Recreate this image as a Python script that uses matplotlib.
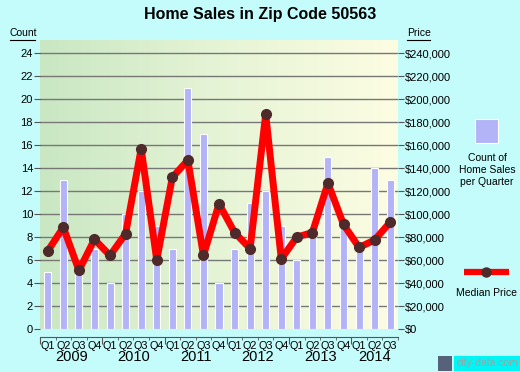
import numpy as np
import matplotlib
matplotlib.use("Agg")
import matplotlib.pyplot as plt
from matplotlib.lines import Line2D
from matplotlib.colors import LinearSegmentedColormap

plt.rcParams['font.family'] = ['Liberation Sans', 'DejaVu Sans']

quarters = ["Q1", "Q2", "Q3", "Q4"] * 5 + ["Q1", "Q2", "Q3"]
years = ["2009", "2010", "2011", "2012", "2013", "2014"]
sales_count = [5, 13, 5, 7, 4, 10, 12, 9, 7, 21, 17, 4,
               7, 11, 12, 9, 6, 9, 15, 9, 7, 14, 13]
median_price = [68000, 88500, 51000, 78000, 64000, 83000, 157000, 60000,
                132000, 147000, 64000, 109000, 84000, 70000, 187000, 61000,
                80000, 84000, 127000, 91000, 71000, 77500, 93000]
count_ticks = list(range(0, 25, 2))
price_ticks = list(range(0, 240001, 20000))

W, H = 520, 372
fig = plt.figure(figsize=(W / 100, H / 100), dpi=100)
fig.patch.set_facecolor("#c4fbfb")

L, R, T, B = 40, 398, 40, 329
ax = fig.add_axes([L / W, 1 - B / H, (R - L) / W, (B - T) / H])
n = len(sales_count)
x = np.arange(n)
ax.set_xlim(-0.5, n - 0.5)
ymax = (B - T) / ((B - 53.3) / 24)
ax.set_ylim(0, ymax)

# gradient background
cmap = LinearSegmentedColormap.from_list("bg", ["#c9e7c3", "#e6f4d6", "#fdfde2"])
grad = np.linspace(0, 1, 256).reshape(1, -1)
ax.imshow(grad, extent=[-0.5, n - 0.5, 0, ymax], aspect="auto", cmap=cmap, zorder=0)
ax.set_facecolor("none")

# grid
for v in count_ticks[1:]:
    ax.axhline(v, color="#777777", lw=1.0, zorder=1)

ax.bar(x, sales_count, width=0.45, color="#b3b3f8", edgecolor="white", lw=0.8, zorder=2)

ax.plot(x, np.array(median_price) / 10000, color="#ff0000", lw=5, zorder=3,
        solid_joinstyle="round", solid_capstyle="round", marker="o", markersize=7,
        markerfacecolor="#4f2a2a", markeredgecolor="#4f2a2a")

for s in ["top", "right", "left"]:
    ax.spines[s].set_visible(False)
ax.spines["bottom"].set_position(("outward", 5.8))
ax.spines["bottom"].set_color("#555555")

ax.set_yticks(count_ticks)
ax.set_yticklabels([str(v) for v in count_ticks], fontsize=8)
ax.tick_params(axis="y", length=4, color="#555555", pad=1)

ax.set_xticks(np.arange(-0.5, n, 4))
ax.set_xticklabels([])
ax.set_xticks(np.arange(-0.5, n, 1), minor=True)
ax.tick_params(axis="x", which="major", length=5, color="#555555")
ax.tick_params(axis="x", which="minor", length=2.5, color="#555555")

for i, q in enumerate(quarters):
    ax.text(i, -1.45, q, ha="center", va="center", fontsize=7.8, clip_on=False)
year_centers = [1.5, 5.5, 9.5, 13.5, 17.5, 21.0]
for yc, yl in zip(year_centers, years):
    ax.text(yc, -2.45, yl, ha="center", va="center", fontsize=10.5, clip_on=False)

ax2 = ax.twinx()
ax2.set_ylim(0, ymax * 10000)
ax2.set_yticks(price_ticks)
ax2.set_yticklabels(["${:,}".format(v) for v in price_ticks], fontsize=8)
ax2.tick_params(axis="y", length=4, color="#555555", pad=1)
for s in ["top", "right", "left", "bottom"]:
    ax2.spines[s].set_visible(False)

fig.text(260 / W, 1 - 15 / H, "Home Sales in Zip Code 50563", ha="center", va="center",
         fontsize=11.5, fontweight="bold")

# axis captions (underlined)
fig.text(10 / W, 1 - 33 / H, "Count", ha="left", va="center", fontsize=7.5)
fig.add_artist(Line2D([10 / W, 35 / W], [1 - 39.5 / H] * 2, color="black", lw=0.8))
fig.text(407 / W, 1 - 33 / H, "Price", ha="left", va="center", fontsize=7.5)
fig.add_artist(Line2D([407 / W, 430 / W], [1 - 39.5 / H] * 2, color="black", lw=0.8))

# legend
lax = fig.add_axes([0, 0, 1, 1], facecolor="none")
lax.set_xlim(0, W)
lax.set_ylim(H, 0)
lax.axis("off")
lax.add_patch(plt.Rectangle((475, 119), 23, 24, facecolor="#b3b3f8", edgecolor="white", lw=0.8))
lax.text(487, 170, "Count of\nHome Sales\nper Quarter", ha="center", va="center",
         fontsize=7.5, linespacing=1.25)
lax.plot([464, 509], [272, 272], color="#ff0000", lw=4.5, solid_capstyle="butt")
lax.plot([486], [272], marker="o", markersize=6.5, color="#4f2a2a")
lax.text(487, 293, "Median Price", ha="center", va="center", fontsize=7.5)

# watermark
lax.add_patch(plt.Rectangle((438, 356), 14, 15, facecolor="#55627a", edgecolor="none"))
lax.add_patch(plt.Rectangle((454, 356), 66, 15, facecolor="#00f5f5", edgecolor="none"))
lax.text(487, 363.5, "city-data.com", ha="center", va="center", fontsize=7.5, color="#9aa5a8")

fig.savefig("out.png", dpi=100, facecolor=fig.get_facecolor())
